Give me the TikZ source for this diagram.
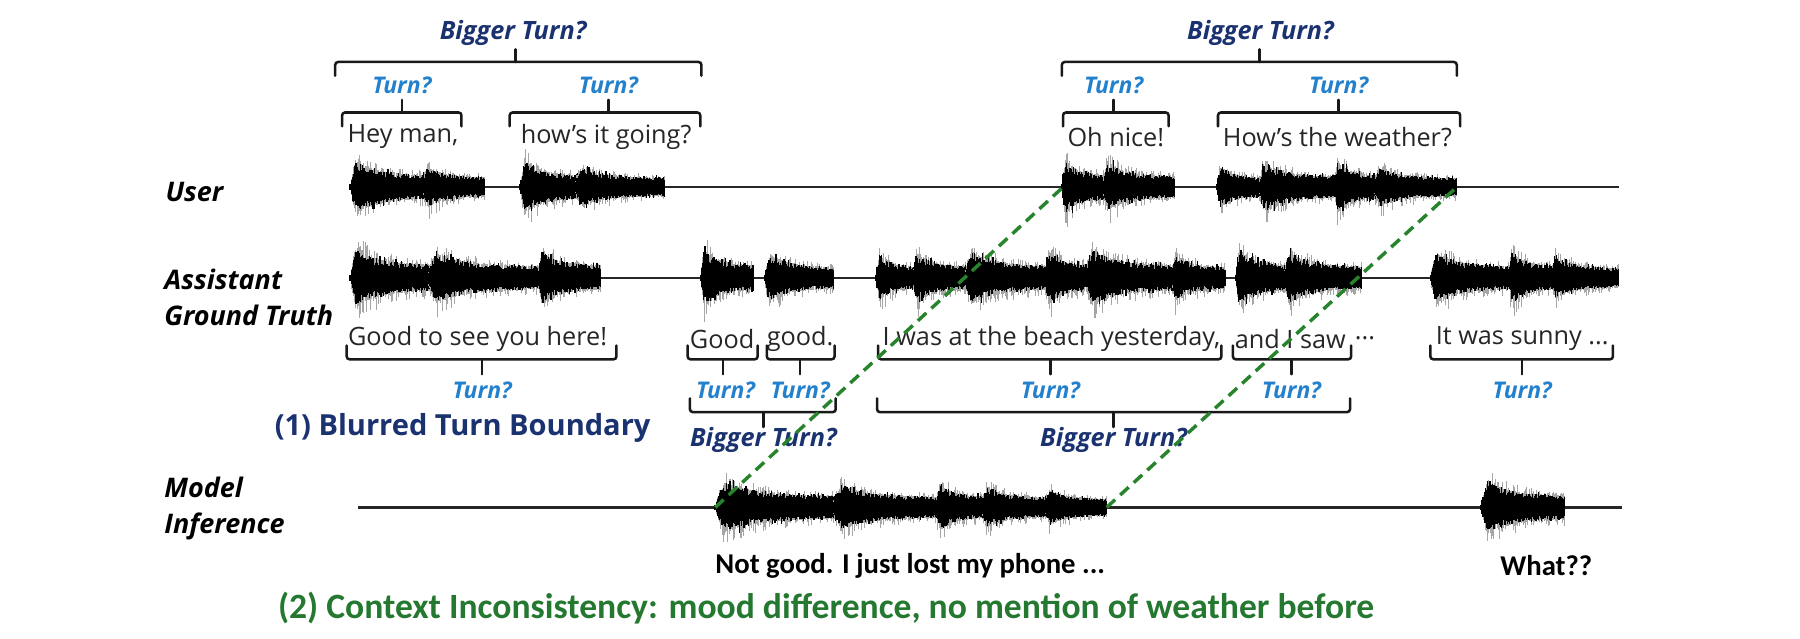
\documentclass[tikz,border=0pt]{standalone}
\usepackage{fontspec}
\setmainfont{Open Sans}
\newfontfamily\narrowfont{Carlito}
\definecolor{navy}{RGB}{27,50,112}
\definecolor{turnblue}{RGB}{34,128,204}
\definecolor{dgreen}{RGB}{36,120,48}
\definecolor{dashgreen}{RGB}{40,132,44}
\newcommand\wv[4]{%
  \pgfmathsetmacro\wlen{#2-#1}%
  \foreach \i in {0,1,...,\wlen}{%
    \pgfmathsetmacro\wt{\i/\wlen}%
    \pgfmathsetmacro\we{min(1,\wt/0.08)*(0.3+0.7*exp(-3.5*\wt))}%
    \pgfmathsetmacro\wgu{#4*\we*(0.75+0.45*rnd^3)+2.5}%
    \pgfmathsetmacro\wgd{#4*\we*(0.75+0.6*rnd^3)+2.5}%
    \pgfmathsetmacro\wu{#4*\we*(0.45+0.35*rnd+0.3*rnd^6)+2.5}%
    \pgfmathsetmacro\wd{#4*\we*(0.45+0.3*rnd+0.3*rnd^6)+2.5}%
    \draw[wavegray] (#1+\i,#3-\wgu) -- (#1+\i,#3+\wgd);
    \draw[wave] (#1+\i,#3-\wu) -- (#1+\i,#3+\wd);
  }}
\newcommand\bracetop[4]{% x0 x1 y tipx : opens downward, tip up
  \draw[brace] (#1,#3+12) -- (#1,#3) -- (#2,#3) -- (#2,#3+12);
  \draw[brace] (#4,#3) -- (#4,#3-11);}
\newcommand\bracebot[4]{% x0 x1 y tipx : opens upward, tip down
  \draw[brace] (#1,#3-12) -- (#1,#3) -- (#2,#3) -- (#2,#3-12);
  \draw[brace] (#4,#3) -- (#4,#3+13);}
\begin{document}
\begin{tikzpicture}[x=1pt,y=-1pt,
  txt/.style={inner sep=0pt, font=\fontsize{22}{26}\selectfont, text=black!85},
  turn/.style={inner sep=0pt, font=\fontsize{20}{24}\selectfont\bfseries\itshape, text=turnblue},
  bigturn/.style={inner sep=0pt, font=\fontsize{22}{26}\selectfont\bfseries\itshape, text=navy},
  lab/.style={inner sep=0pt, anchor=west, align=left, font=\fontsize{23.5}{31}\selectfont\bfseries\itshape},
  brace/.style={line width=2.2pt, rounded corners=2.5pt, line cap=round, black!90},
  wave/.style={line width=1.2pt, black},
  wavegray/.style={line width=0.8pt, black!35},
  baseline/.style={line width=2.2pt, black!85},
  greendash/.style={dashed, dash pattern=on 10pt off 6pt, line width=3pt, dashgreen},
  heading/.style={inner sep=0pt, font=\fontsize{25.3}{28}\selectfont\bfseries, text=navy},
  reply/.style={inner sep=0pt, font=\narrowfont\fontsize{25}{28}\selectfont\bfseries, text=black}
]
\useasboundingbox (0,0) rectangle (1568,556);
\pgfmathsetseed{11}

% row labels
\node[lab] (luser) at (144,167) {User};
\node[lab] (lasst) at (143,259) {Assistant\\Ground Truth};
\node[lab] (lmodel) at (143,443) {Model\\Inference};

% baselines
\coordinate (u0) at (305,163); \coordinate (u1) at (1410,163);
\coordinate (a0) at (305,242); \coordinate (a1) at (1410,242);
\coordinate (m0) at (312,442); \coordinate (m1) at (1413,442);
\draw[baseline] (u0) -- (u1);
\draw[baseline] (a0) -- (a1);
\draw[baseline] (m0) -- (m1);

% user waveforms
\wv{305}{372}{163}{32}
\wv{368}{422}{163}{24}
\wv{453}{505}{163}{32}
\wv{500}{579}{163}{22}
\wv{925}{965}{163}{32}
\wv{960}{1023}{163}{28}
\wv{1060}{1100}{163}{24}
\wv{1096}{1165}{163}{28}
\wv{1162}{1200}{163}{32}
\wv{1196}{1269}{163}{22}

% assistant waveforms
\wv{305}{376}{242}{36}
\wv{372}{472}{242}{30}
\wv{468}{523}{242}{32}
\wv{610}{656}{242}{34}
\wv{666}{726}{242}{28}
\wv{763}{799}{242}{28}
\wv{795}{844}{242}{30}
\wv{840}{914}{242}{32}
\wv{910}{949}{242}{34}
\wv{945}{1024}{242}{34}
\wv{1020}{1067}{242}{28}
\wv{1076}{1122}{242}{34}
\wv{1118}{1186}{242}{30}
\wv{1246}{1318}{242}{30}
\wv{1314}{1354}{242}{32}
\wv{1350}{1410}{242}{24}

% model waveforms
\wv{623}{729}{442}{30}
\wv{725}{819}{442}{26}
\wv{815}{859}{442}{28}
\wv{855}{914}{442}{24}
\wv{910}{964}{442}{20}
\wv{1290}{1363}{442}{32}

% user texts and braces
\node[txt] (t1) at (351,119) {Hey man,};
\node[txt] (t2) at (528,119) {how’s it going?};
\node[txt] (t3) at (972,119) {Oh nice!};
\node[txt] (t4) at (1165,119) {How’s the weather?};
\bracetop{298}{402}{98}{350}
\bracetop{444}{610}{98}{530}
\bracetop{926}{1018}{98}{970}
\bracetop{1061}{1272}{98}{1166}
\node[turn] (ut1) at (350,74) {Turn?};
\node[turn] (ut2) at (530,74) {Turn?};
\node[turn] (ut3) at (970,74) {Turn?};
\node[turn] (ut4) at (1166,74) {Turn?};
\bracetop{292}{611}{54}{449}
\bracetop{925}{1269}{54}{1097}
\node[bigturn] (ub1) at (447,29) {Bigger Turn?};
\node[bigturn] (ub2) at (1098,29) {Bigger Turn?};

% assistant texts and braces
\node[txt] (s1) at (416,295) {Good to see you here!};
\node[txt] (s2) at (629,295) {Good};
\node[txt] (s3) at (697,295) {good.};
\node[txt] (s4) at (916,295) {I was at the beach yesterday,};
\node[txt] (s5) at (1124,295) {and I saw};
\node[txt] (s6) at (1189,295) {...};
\node[txt] (s7) at (1326,295) {It was sunny ...};
\bracebot{302}{537}{313}{420}
\bracebot{599}{660}{313}{630}
\bracebot{668}{727}{313}{697}
\bracebot{765}{1064}{313}{915}
\bracebot{1074}{1177}{313}{1125}
\bracebot{1246}{1405}{313}{1326}
\node[turn] (at1) at (420,340) {Turn?};
\node[turn] (at2) at (632,340) {Turn?};
\node[turn] (at3) at (697,340) {Turn?};
\node[turn] (at4) at (915,340) {Turn?};
\node[turn] (at5) at (1125,340) {Turn?};
\node[turn] (at6) at (1326,340) {Turn?};
\bracebot{601}{728}{359}{665}
\bracebot{764}{1176}{359}{970}
\node[bigturn] (ab1) at (665,383) {Bigger Turn?};
\node[bigturn] (ab2) at (970,383) {Bigger Turn?};

\node[heading] (h1) at (403,373) {(1) Blurred Turn Boundary};

% model texts
\node[reply, anchor=west] (r1) at (623,493) {Not good. I just lost my phone ...};
\node[reply] (r2) at (1347,493) {What??};
\node[inner sep=0pt, anchor=west, font=\narrowfont\fontsize{31}{34}\selectfont\bfseries, text=dgreen] (h2) at (242,530) {(2) Context Inconsistency: mood difference, no mention of weather before};

% green dashed connectors
\coordinate (g1a) at (623,442); \coordinate (g1b) at (926,163);
\coordinate (g2a) at (964,442); \coordinate (g2b) at (1269,163);
\draw[greendash] (g1a) -- (g1b);
\draw[greendash] (g2a) -- (g2b);
\end{tikzpicture}
\end{document}
